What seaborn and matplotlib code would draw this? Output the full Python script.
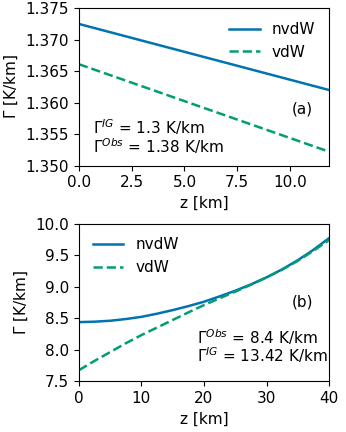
import numpy as np
import pandas as pd
import seaborn as sns
import matplotlib
matplotlib.use("Agg")
import matplotlib.pyplot as plt

# panel (a)
z_a = [0.0, 11.85]
nvdw_a = [1.3725, 1.3620]
vdw_a = [1.3661, 1.3522]

# panel (b)
z_b = [0, 2.5, 5, 7.5, 10, 12.5, 15, 17.5, 20, 22.5, 25, 27.5, 30, 32.5, 35, 37.5, 40]
nvdw_b = [8.436, 8.443, 8.458, 8.485, 8.52, 8.57, 8.627, 8.69, 8.76, 8.845, 8.935,
          9.035, 9.147, 9.275, 9.42, 9.585, 9.77]
vdw_b = [7.672, 7.82, 7.96, 8.10, 8.23, 8.35, 8.47, 8.59, 8.707, 8.815, 8.92,
         9.03, 9.147, 9.27, 9.41, 9.57, 9.74]

labels = ["nvdW", "vdW"]


def to_frame(z, a, b):
    return pd.DataFrame({
        "z": list(z) * 2,
        "G": list(a) + list(b),
        "model": [labels[0]] * len(z) + [labels[1]] * len(z),
    })


def main():
    plt.rcParams["font.size"] = 11
    pal = sns.color_palette("colorblind")
    colors = {"nvdW": pal[0], "vdW": pal[2]}
    dashes = {"nvdW": "", "vdW": (3.7, 1.6)}

    fig, axs = plt.subplots(2, 1, figsize=(3.46, 4.32), dpi=100)

    ax = axs[0]
    sns.lineplot(data=to_frame(z_a, nvdw_a, vdw_a), x="z", y="G", hue="model",
                 style="model", palette=colors, dashes=dashes, lw=1.8, ax=ax)
    ax.set_xlim(0, 11.85)
    ax.set_ylim(1.35, 1.375)
    ax.set_yticks([1.35, 1.355, 1.36, 1.365, 1.37, 1.375])
    ax.set_xticks([0, 2.5, 5, 7.5, 10])
    ax.set_xlabel("z [km]")
    ax.set_ylabel(r"$\Gamma$ [K/km]")
    ax.legend(frameon=False, loc="upper right")
    ax.text(10.06, 1.3582, "(a)")
    ax.text(0.65, 1.35495, r"$\Gamma^{IG}$ = 1.3 K/km")
    ax.text(0.65, 1.35195, r"$\Gamma^{Obs}$ = 1.38 K/km")

    ax = axs[1]
    sns.lineplot(data=to_frame(z_b, nvdw_b, vdw_b), x="z", y="G", hue="model",
                 style="model", palette=colors, dashes=dashes, lw=1.8, ax=ax)
    ax.set_xlim(0, 40)
    ax.set_ylim(7.5, 10.0)
    ax.set_yticks([7.5, 8.0, 8.5, 9.0, 9.5, 10.0])
    ax.set_xticks([0, 10, 20, 30, 40])
    ax.set_xlabel("z [km]")
    ax.set_ylabel(r"$\Gamma$ [K/km]")
    ax.legend(frameon=False, loc="upper left")
    ax.text(34.0, 8.68, "(b)")
    ax.text(18.9, 8.09, r"$\Gamma^{Obs}$ = 8.4 K/km")
    ax.text(18.9, 7.80, r"$\Gamma^{IG}$ = 13.42 K/km")

    fig.subplots_adjust(left=0.228, right=0.951, top=0.981, bottom=0.118, hspace=0.37)
    fig.savefig("out.png", dpi=100)


if __name__ == "__main__":
    main()
